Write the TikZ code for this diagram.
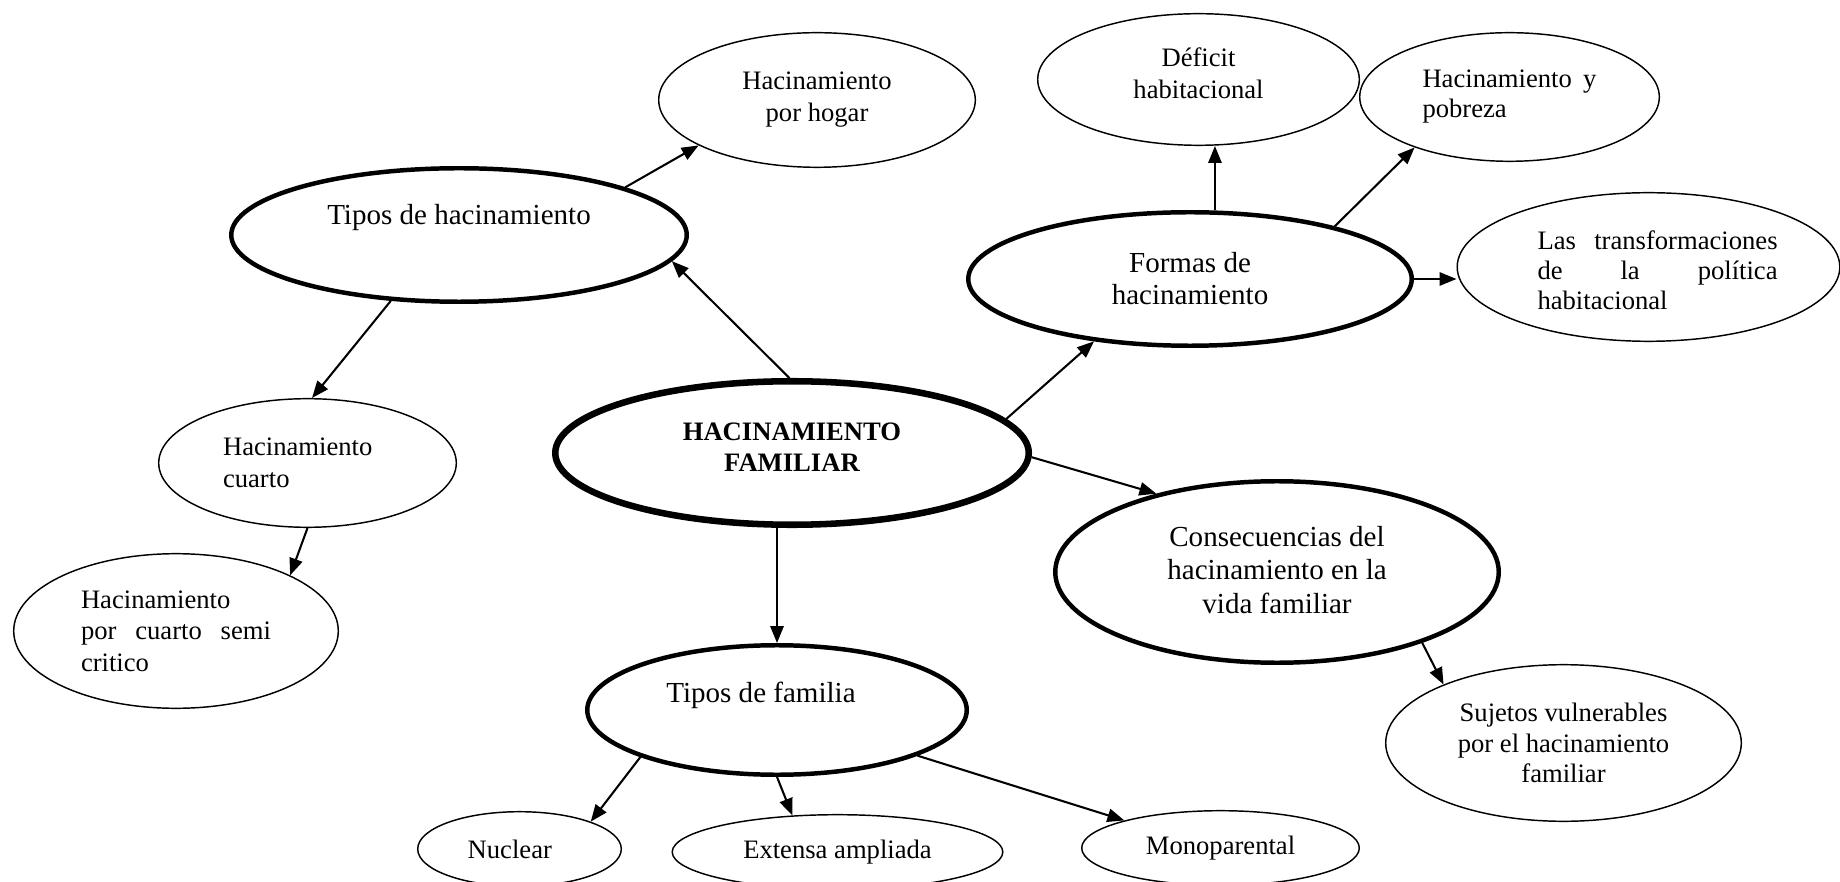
\documentclass[tikz,border=0pt]{standalone}
\usepackage{fontspec}
\setmainfont{Liberation Serif}
\usetikzlibrary{shapes.geometric,arrows.meta}
\tikzset{
  sz/.style 2 args={minimum width={#1*0.4132pt}, minimum height={#2*0.4132pt}},
  thinell/.style={draw, ellipse, line width=0.6pt, inner sep=0pt, align=center,
                  font=\fontsize{11}{13.2}\selectfont},
  thickell/.style={draw, ellipse, line width=1.85pt, inner sep=0pt, align=center,
                  font=\fontsize{12}{13.8}\selectfont},
  mainell/.style={draw, ellipse, line width=2.7pt, inner sep=0pt, align=center,
                  font=\fontsize{11}{12.8}\selectfont\bfseries},
  bigtxt/.style={inner sep=0pt, font=\fontsize{12}{13.8}\selectfont},
  arr/.style={-{Triangle[length=7pt,width=5.5pt]}, line width=0.85pt},
}
\begin{document}
\begin{tikzpicture}[x=0.4132pt, y=-0.4132pt]
\useasboundingbox (0,0) rectangle (1840,882);

% main
\node[mainell, sz={473.5}{143.5}] (hf) at (792,453) {HACINAMIENTO\\FAMILIAR\rule[-5pt]{0pt}{0pt}};

% tipos de hacinamiento
\node[thickell, sz={455.5}{133.5}] (tiposh) at (459,235) {};
\node[bigtxt, anchor=base] (tiposhT) at (459,225) {Tipos de hacinamiento};
\node[thinell, sz={316.6}{134.6}] (hogar) at (817,100) {Hacinamiento\\por hogar\rule[-1.5pt]{0pt}{0pt}};
\node[thinell, sz={297.6}{128.6}, text width=69.8pt, align=left] (cuarto) at (307.5,463) {Hacinamiento\\cuarto};
\node[thinell, sz={324.6}{154.6}, text width=78.5pt, align=left, font=\fontsize{11}{13}\selectfont] (semi) at (176,631)
  {Hacinamiento\\\makebox[78.5pt][l]{por\hfill cuarto\hfill semi}\\critico};

% formas
\node[thickell, sz={443.5}{133.5}, font=\fontsize{12}{13.2}\selectfont] (formas) at (1190,279) {Formas de\\hacinamiento};
\node[thinell, sz={321.6}{131.6}] (deficit) at (1198.5,79.5) {Déficit\\habitacional\rule[-5pt]{0pt}{0pt}};
\node[thinell, sz={299.6}{128.6}, text width=71.9pt, align=left, font=\fontsize{11}{12.4}\selectfont] (pobreza) at (1509.5,97) {\makebox[71.9pt][l]{Hacinamiento\hfill y}\\pobreza};
\node[thinell, sz={382.6}{148.6}] (trans) at (1648.5,267) {};
\node[inner sep=0pt, anchor=north west, text width=99.2pt, align=left, font=\fontsize{11}{12.4}\selectfont] (transT) at (1537,230)
  {\makebox[99.2pt][l]{Las\hfill transformaciones}\\\makebox[99.2pt][l]{de\hfill la\hfill política}\\habitacional};

% consecuencias
\node[thickell, sz={443.5}{181.5}] (consec) at (1277,572) {Consecuencias del\\hacinamiento en la\\vida familiar\rule[-2pt]{0pt}{0pt}};
\node[thinell, sz={355.6}{156.6}, font=\fontsize{11}{12.6}\selectfont] (sujetos) at (1563.5,743) {Sujetos vulnerables\\por el hacinamiento\\familiar};

% tipos de familia
\node[thickell, sz={379.5}{129.5}] (tf) at (777,710) {};
\node[bigtxt, anchor=base] (tfT) at (761,702) {Tipos de familia};
\node[thinell, sz={203.6}{74.6}] (nuclear) at (519.5,849) {Nuclear\hspace{8pt}};
\node[thinell, sz={330.6}{74.6}] (extensa) at (837.5,852) {Extensa ampliada};
\node[thinell, sz={277.6}{74.6}] (mono) at (1220.5,848) {Monoparental};

% connectors
\draw[arr] (hf.92.3) -- (tiposh.-7.4);
\draw[arr] (tiposh.16.4) -- (hogar.201);
\draw[arr] (tiposh.224.2) -- (cuarto.86.5);
\draw[arr] (cuarto.-90) -- (semi.26);
\draw[arr] (tf.north |- hf.south) -- (tf.north);
\draw[arr] (hf.9.6) -- (formas.213.6);
\draw[arr] (hf.-1) -- (consec.147.1);
\draw[arr] (formas.70) -- (formas.70 |- deficit.south);
\draw[arr] (formas.20.4) -- (pobreza.208);
\draw[arr] (formas.east) -- (formas.east -| trans.west);
\draw[arr] (consec.-26.3) -- (sujetos.154.9);
\draw[arr] (tf.199.4) -- (nuclear.21.7);
\draw[arr] (tf.-90) -- (extensa.141);
\draw[arr] (tf.-18.2) -- (mono.164.4);
\end{tikzpicture}
\end{document}
